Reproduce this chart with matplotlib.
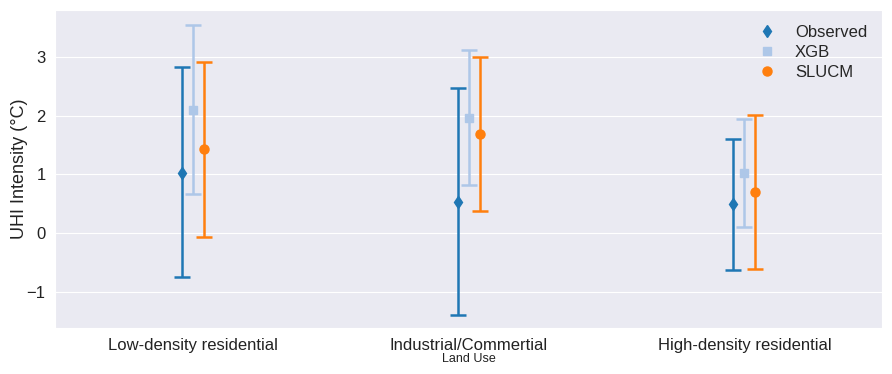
import matplotlib
matplotlib.use("Agg")
import matplotlib.pyplot as plt
import seaborn as sns
import numpy as np

sns.set_style("darkgrid")
plt.rcParams['font.family'] = ['Liberation Sans', 'DejaVu Sans']

land_use = ["Low-density residential", "Industrial/Commertial", "High-density residential"]
models = ["Observed", "XGB", "SLUCM"]

# mean, lower, upper for each land use
observed_mean = [1.03, 0.53, 0.49]
observed_low = [-0.75, -1.39, -0.63]
observed_high = [2.83, 2.47, 1.61]

xgb_mean = [2.10, 1.96, 1.02]
xgb_low = [0.67, 0.81, 0.10]
xgb_high = [3.55, 3.12, 1.94]

slucm_mean = [1.43, 1.68, 0.70]
slucm_low = [-0.07, 0.37, -0.61]
slucm_high = [2.92, 3.00, 2.02]

series = [
    (observed_mean, observed_low, observed_high, "#1f77b4", "d", 6),
    (xgb_mean, xgb_low, xgb_high, "#aec7e8", "s", 5.5),
    (slucm_mean, slucm_low, slucm_high, "#ff7f0e", "o", 6.5),
]
offsets = [-0.04, 0.0, 0.04]

fig, ax = plt.subplots(figsize=(8.92, 3.74), dpi=100)
x = np.arange(len(land_use))

for name, (mean, low, high, color, marker, ms), off in zip(models, series, offsets):
    mean = np.array(mean)
    yerr = np.vstack([mean - np.array(low), np.array(high) - mean])
    ax.errorbar(x + off, mean, yerr=yerr, fmt="none", ecolor=color,
                elinewidth=1.8, capsize=6, capthick=1.8)
    ax.plot(x + off, mean, linestyle="none", marker=marker, color=color,
            markersize=ms, label=name)

ax.set_xlim(-0.5, 2.5)
ax.set_ylim(-1.62, 3.8)
ax.set_xticks(x)
ax.set_xticklabels(land_use, fontsize=12, color="#222222")
ax.set_yticks([-1, 0, 1, 2, 3])
ax.set_yticklabels(["\u22121", "0", "1", "2", "3"], fontsize=12, color="#222222")
ax.xaxis.grid(False)
ax.set_xlabel("Land Use", fontsize=9, labelpad=0, color="#222222")
ax.set_ylabel("UHI Intensity (°C)", fontsize=13, labelpad=-1, color="#222222")
ax.legend(loc="upper right", frameon=False, fontsize=12, handletextpad=0.9,
          handlelength=1.6, labelspacing=0.3)

fig.subplots_adjust(left=0.062, right=0.989, top=0.973, bottom=0.123)
fig.savefig("out.png", dpi=100)
